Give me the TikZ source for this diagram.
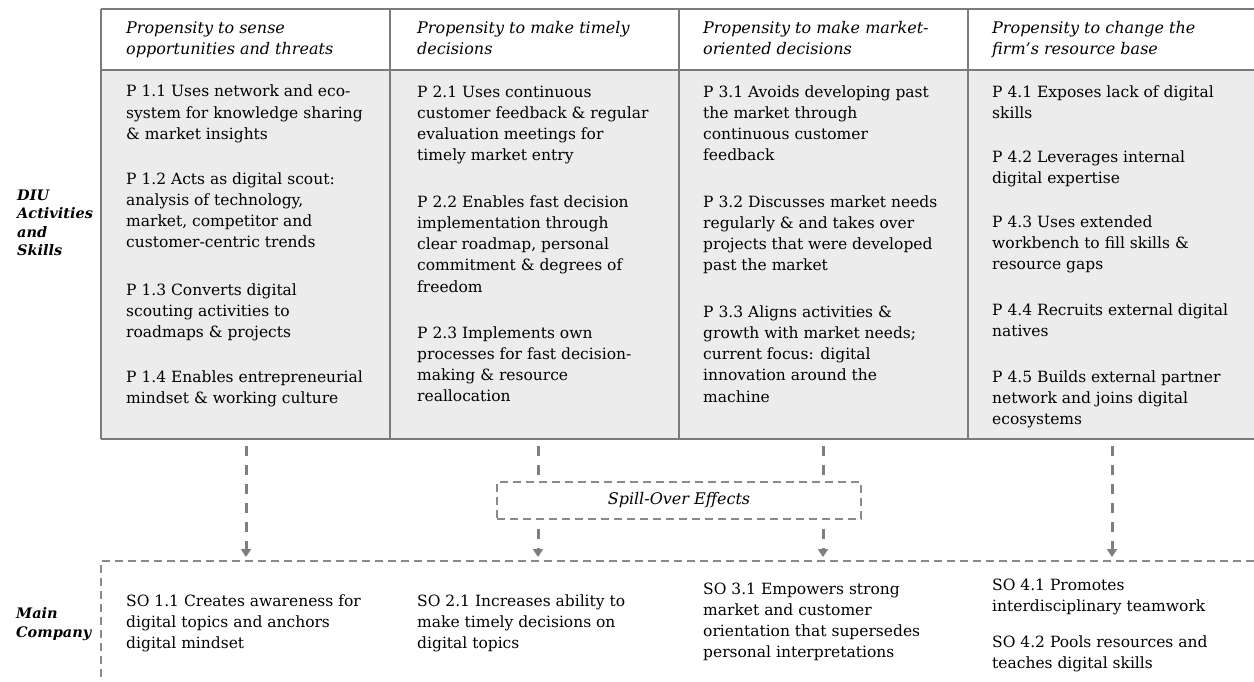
\documentclass[tikz,border=0pt]{standalone}
\usepackage{fontspec}
\setmainfont{DejaVu Serif}
\usetikzlibrary{arrows.meta}
\definecolor{gridline}{HTML}{7B7B7B}
\definecolor{bodyfill}{HTML}{ECECEC}
\definecolor{arrowgray}{HTML}{7F7F7F}
\definecolor{dashgray}{HTML}{8A8A8A}
\tikzset{
  txt/.style={anchor=base west, inner sep=0pt, align=left, font=\fontsize{15.5}{21.3}\selectfont},
  head/.style={txt, font=\fontsize{16}{21.3}\selectfont\itshape},
  sidelabel/.style={anchor=base west, inner sep=0pt, align=left, font=\fontsize{14.5}{18.6}\selectfont\bfseries\itshape},
  tableline/.style={draw=gridline, line width=2pt},
  flowarrow/.style={draw=arrowgray, line width=3pt, dash pattern=on 10pt off 9pt, -{Triangle[width=10pt,length=8pt]}, shorten >=4pt},
  flowline/.style={draw=arrowgray, line width=3pt, dash pattern=on 10pt off 9pt},
  thindash/.style={draw=dashgray, line width=1.4pt, dash pattern=on 8pt off 5pt},
}
\begin{document}
\begin{tikzpicture}[x=1pt,y=-1pt]
\useasboundingbox (0,0) rectangle (1254,682);
% table
\fill[bodyfill] (101,70) rectangle (1254,439);
\draw[tableline] (101,9) -- (1254,9);
\draw[tableline] (101,70) -- (1254,70);
\draw[tableline] (101,439) -- (1254,439);
\foreach \x in {101,390,679,968} \draw[tableline] (\x,9) -- (\x,439);
% headers (anchor: baseline of last line)
\node[head] (h1) at (126,55) {Propensity to sense\\opportunities and threats};
\node[head] (h2) at (417,55) {Propensity to make timely\\decisions};
\node[head] (h3) at (703,55) {Propensity to make market-\\oriented decisions};
\node[head] (h4) at (992,55) {Propensity to change the\\firm’s resource base};
% column 1
\node[txt] (p11) at (126,139.6) {P 1.1 Uses network and eco-\\system for knowledge sharing\\\& market insights};
\node[txt] (p12) at (126,247.9) {P 1.2 Acts as digital scout:\\analysis of technology,\\market, competitor and\\customer-centric trends};
\node[txt] (p13) at (126,337.6) {P 1.3 Converts digital\\scouting activities to\\roadmaps \& projects};
\node[txt] (p14) at (126,403.3) {P 1.4 Enables entrepreneurial\\mindset \& working culture};
% column 2
\node[txt] (p21) at (417,160.9) {P 2.1 Uses continuous\\customer feedback \& regular\\evaluation meetings for\\timely market entry};
\node[txt] (p22) at (417,292.2) {P 2.2 Enables fast decision\\implementation through\\clear roadmap, personal\\commitment \& degrees of\\freedom};
\node[txt] (p23) at (417,401.9) {P 2.3 Implements own\\processes for fast decision-\\making \& resource\\reallocation};
% column 3
\node[txt] (p31) at (703,160.9) {P 3.1 Avoids developing past\\the market through\\continuous customer\\feedback};
\node[txt] (p32) at (703,270.9) {P 3.2 Discusses market needs\\regularly \& and takes over\\projects that were developed\\past the market};
\node[txt] (p33) at (703,402.2) {P 3.3 Aligns activities \&\\growth with market needs;\\current focus: digital\\innovation around the\\machine};
% column 4
\node[txt] (p41) at (992,118.3) {P 4.1 Exposes lack of digital\\skills};
\node[txt] (p42) at (992,183.3) {P 4.2 Leverages internal\\digital expertise};
\node[txt] (p43) at (992,269.6) {P 4.3 Uses extended\\workbench to fill skills \&\\resource gaps};
\node[txt] (p44) at (992,336.3) {P 4.4 Recruits external digital\\natives};
\node[txt] (p45) at (992,424.6) {P 4.5 Builds external partner\\network and joins digital\\ecosystems};
% side labels
\node[sidelabel] (diu) at (17,255.8) {DIU\\Activities\\and\\Skills};
\node[sidelabel] (mainco) at (16,637) {Main\\Company};
% spill-over box
\node[thindash, minimum width=364pt, minimum height=37pt, inner sep=0pt, font=\fontsize{16}{18}\selectfont\itshape] (spill) at (679,500.5) {Spill-Over Effects};
% main company region
\coordinate (mcorner) at (101,561);
\coordinate (mright) at (1254,561);
\coordinate (mbottom) at (101,682);
\draw[thindash] (mright) -- (mcorner) -- (mbottom);
% arrows
\coordinate (a1) at (246,446);
\coordinate (a2) at (538,446);
\coordinate (a3) at (823,446);
\coordinate (a4) at (1112,446);
\draw[flowarrow] (a1) -- (a1 |- mcorner);
\draw[flowarrow] (a4) -- (a4 |- mcorner);
\draw[flowline] (a2) -- (a2 |- spill.north);
\draw[flowline] (a3) -- (a3 |- spill.north);
\draw[flowarrow] ([yshift=-9pt]a2 |- spill.south) -- (a2 |- mcorner);
\draw[flowarrow] ([yshift=-9pt]a3 |- spill.south) -- (a3 |- mcorner);
% bottom texts
\node[txt] (so11) at (126,648.6) {SO 1.1 Creates awareness for\\digital topics and anchors\\digital mindset};
\node[txt] (so21) at (417,648.6) {SO 2.1 Increases ability to\\make timely decisions on\\digital topics};
\node[txt] (so31) at (703,657.9) {SO 3.1 Empowers strong\\market and customer\\orientation that supersedes\\personal interpretations};
\node[txt] (so41) at (992,611.3) {SO 4.1 Promotes\\interdisciplinary teamwork};
\node[txt] (so42) at (992,668.3) {SO 4.2 Pools resources and\\teaches digital skills};
\end{tikzpicture}
\end{document}
